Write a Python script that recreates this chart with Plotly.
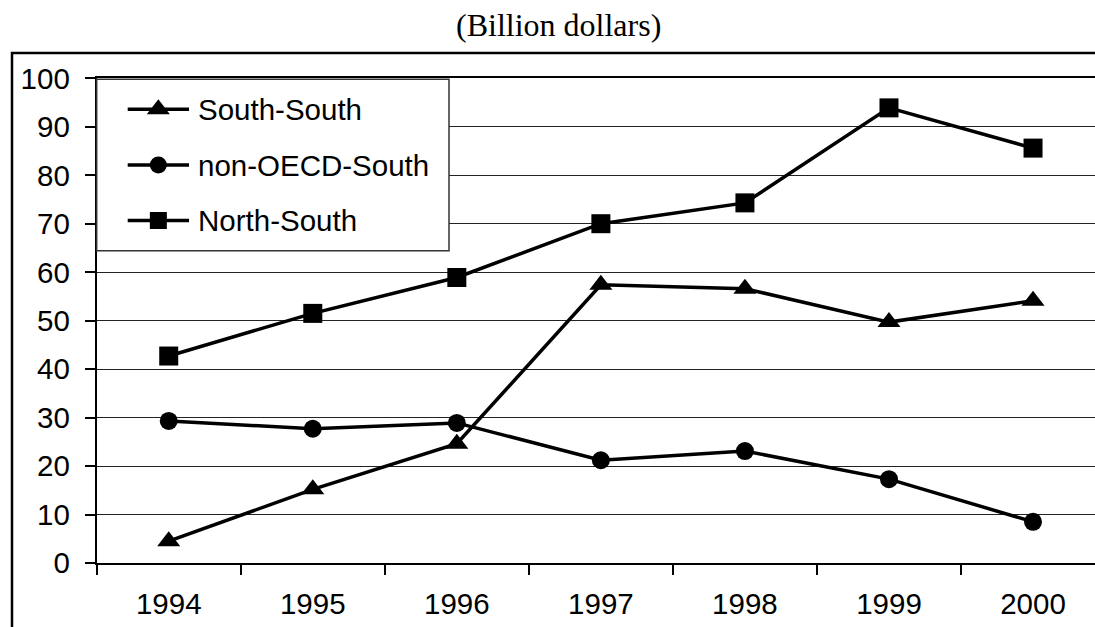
import plotly.graph_objects as go

# Trade flows, billion dollars
years = ["1994", "1995", "1996", "1997", "1998", "1999", "2000"]
south_south = [4.5, 15.2, 24.6, 57.4, 56.6, 49.7, 54.1]
non_oecd_south = [29.3, 27.7, 28.9, 21.2, 23.1, 17.3, 8.5]
north_south = [42.7, 51.5, 58.9, 70.0, 74.3, 93.9, 85.6]

series_names = ["South-South", "non-OECD-South", "North-South"]
series_values = [south_south, non_oecd_south, north_south]
series_symbols = ["triangle-up", "circle", "square"]
series_sizes = [20, 18, 19]

W, H = 1095, 627
FONT = "Liberation Sans, Arial, sans-serif"


def px(x):
    return x / W


def py(y):
    return 1 - y / H


# plot-area geometry (pixels)
PLOT_LEFT, PLOT_TOP, PLOT_BOTTOM = 96.7, 78.3, 563.0
CAT_WIDTH = 144.05

fig = go.Figure()

for name, vals, sym, size in zip(series_names, series_values, series_symbols, series_sizes):
    fig.add_trace(go.Scatter(
        x=years, y=vals, name=name, mode="lines+markers",
        line=dict(color="black", width=3.5),
        marker=dict(symbol=sym, size=size, color="black"),
        showlegend=False, xaxis="x", yaxis="y", cliponaxis=False,
    ))

# legend keys drawn on a pixel-space overlay
LEG_BOX = (96.7, 79.3, 449.0, 250.7)
LEG_ROWS = [109.3, 165.0, 220.5]
LEG_LINE = (127.7, 189.0)
LEG_TEXT_X = 196.0
legend_sizes = [20, 17, 17]

shapes = [
    dict(type="rect", xref="x2", yref="y2", layer="below",
         x0=LEG_BOX[0], y0=LEG_BOX[1], x1=LEG_BOX[2], y1=LEG_BOX[3],
         fillcolor="white", line=dict(color="#333", width=1.5)),
    # chart-area frame
    dict(type="rect", xref="paper", yref="paper",
         x0=px(12), y0=py(53), x1=px(W + 60), y1=py(H + 60),
         line=dict(color="black", width=2.5), fillcolor="rgba(0,0,0,0)"),
]

annotations = [
    dict(text="(Billion dollars)", xref="paper", yref="paper",
         x=px(558), y=py(25), xanchor="center", yanchor="middle", showarrow=False,
         font=dict(family="Liberation Serif, Times New Roman, serif", size=32, color="black")),
]

for name, sym, size, yrow in zip(series_names, series_symbols, legend_sizes, LEG_ROWS):
    xm = (LEG_LINE[0] + LEG_LINE[1]) / 2
    shapes.append(dict(
        type="line", xref="x2", yref="y2", layer="below",
        x0=LEG_LINE[0], x1=LEG_LINE[1], y0=yrow, y1=yrow,
        line=dict(color="black", width=3.5)))
    fig.add_trace(go.Scatter(
        x=[xm], y=[yrow], mode="markers", xaxis="x2", yaxis="y2", showlegend=False,
        marker=dict(symbol=sym, size=size, color="black", line=dict(width=0)),
        hoverinfo="skip",
    ))
    annotations.append(dict(
        text=name, xref="x2", yref="y2", x=LEG_TEXT_X, y=yrow,
        xanchor="left", yanchor="middle", showarrow=False,
        font=dict(family=FONT, size=29.5, color="black")))

fig.update_layout(
    width=W, height=H,
    margin=dict(l=0, r=0, t=0, b=0),
    paper_bgcolor="white", plot_bgcolor="rgba(0,0,0,0)",
    showlegend=False,
    shapes=shapes, annotations=annotations,
    xaxis=dict(
        type="category", categoryorder="array", categoryarray=years,
        domain=[px(PLOT_LEFT), 1],
        range=[-0.5, -0.5 + (W - PLOT_LEFT) / CAT_WIDTH],
        tickson="boundaries", ticks="outside", ticklen=10, tickwidth=1.5, tickcolor="black",
        showline=True, linecolor="black", linewidth=2, mirror=True,
        showgrid=False, zeroline=False, automargin=False,
        tickfont=dict(family=FONT, size=29.5, color="black"),
        ticklabelstandoff=14,
        anchor="y",
    ),
    yaxis=dict(
        domain=[py(PLOT_BOTTOM), py(PLOT_TOP)],
        range=[0, 100], dtick=10, tick0=0,
        ticks="outside", ticklen=10, tickwidth=1.5, tickcolor="black",
        showline=True, linecolor="black", linewidth=2, mirror=True,
        showgrid=True, gridcolor="#222", gridwidth=1.2,
        zeroline=False, automargin=False,
        tickfont=dict(family=FONT, size=29.5, color="black"),
        ticklabelstandoff=9,
        anchor="x",
    ),
    xaxis2=dict(domain=[0, 1], range=[0, W], visible=False, anchor="y2", fixedrange=True),
    yaxis2=dict(domain=[0, 1], range=[H, 0], visible=False, anchor="x2", fixedrange=True),
)

fig.write_html("out.html")
